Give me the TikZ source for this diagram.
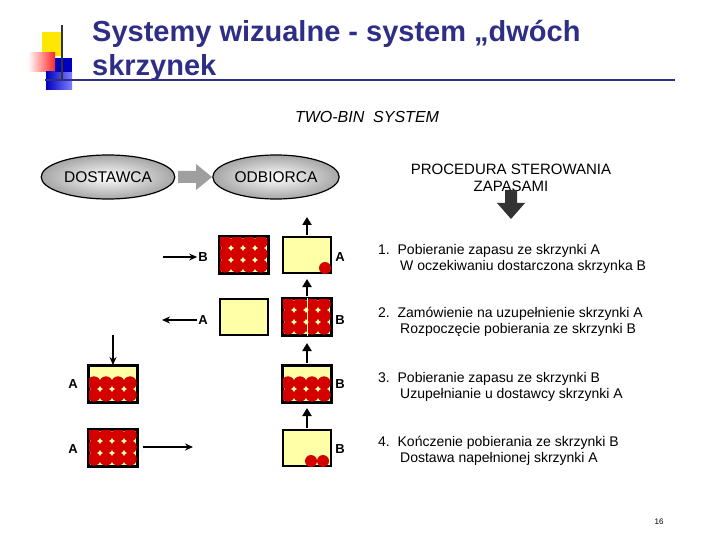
\documentclass[tikz,border=0pt]{standalone}
\usepackage{fontspec}
\setmainfont{Liberation Sans}
\usetikzlibrary{arrows.meta,shapes.geometric,calc}
\definecolor{ttl}{HTML}{2E2E86}
\definecolor{cream}{HTML}{FFFFA8}
\definecolor{dotred}{HTML}{D40000}
\tikzset{
 bin/.style={draw=black,line width=2pt,fill=cream,minimum width=48pt,minimum height=36pt,inner sep=0pt},
 lbl/.style={font=\bfseries\fontsize{13}{13}\selectfont,inner sep=1pt},
 arr/.style={-{Stealth[length=8pt,width=7pt]},line width=1.2pt},
 uparr/.style={-{Triangle[length=8pt,width=9pt]},line width=2pt},
 oval/.style={ellipse,draw=black,line width=1.2pt,inner color=white,outer color=gray!70,minimum width=118pt,minimum height=44pt,font=\fontsize{15.5}{15.5}\selectfont},
 txt/.style={font=\fontsize{14}{16}\selectfont,align=left,anchor=north west,inner sep=0pt},
}
\newcommand{\dotrows}[3]{%
 \begin{scope}
 \clip (#1.north west) rectangle (#1.south east);
 \foreach \r in {#2,...,#3}{\foreach \c in {0,...,3}{
  \fill[dotred] ($(#1.north west)+(6+12*\c,6+12*\r)$) circle (6.7pt);}}
 \end{scope}
 \draw[line width=2pt] (#1.north west) rectangle (#1.south east);}
\begin{document}
\begin{tikzpicture}[x=1pt,y=-1pt]
\useasboundingbox (0,0) rectangle (720,540);
% logo
\fill[yellow!90!orange] (42,32) rectangle (62,56);
\shade[left color=white,right color=red!85] (28,53) rectangle (55,72);
\shade[left color=blue!75!black,right color=blue!50] (46,72) rectangle (72,90);
\fill[blue!75!black] (55,58) rectangle (72,72);
\draw[line width=1.2pt,black!80] (62,25) -- (62,80);
\node[anchor=west,text=ttl,font=\bfseries\fontsize{29}{29}\selectfont,inner sep=0pt] (t1) at (92,34) {Systemy wizualne - system „dwóch};
\node[anchor=west,text=ttl,font=\bfseries\fontsize{29}{29}\selectfont,inner sep=0pt] (t2) at (92,68) {skrzynek};
\coordinate (ul1) at (45,80); \coordinate (ul2) at (675,80);
\draw[ttl,line width=1.5pt] (ul1) -- (ul2);
\node[font=\itshape\fontsize{16}{16}\selectfont] (two) at (367,117) {TWO-BIN \ SYSTEM};
% ovals
\node[oval] (dost) at (108,177) {DOSTAWCA};
\node[oval] (odb) at (276,177) {ODBIORCA};
\fill[gray!75] (178,171) -- (196,171) -- (196,164) -- (212,177) -- (196,190) -- (196,183) -- (178,183) -- cycle;
\node[font=\fontsize{15}{17}\selectfont,align=center] (proc) at (511,178) {PROCEDURA STEROWANIA\\ZAPASAMI};
\fill[black!80] (505,190) -- (517,190) -- (517,203) -- (525,203) -- (511,219) -- (497,203) -- (505,203) -- cycle;
% row 1
\node[bin] (b1l) at (244,255) {}; \dotrows{b1l}{0}{2}
\node[bin] (b1r) at (307,255) {};
\fill[dotred] ($(b1r.south east)+(-7,-6)$) circle (6pt);
\node[lbl] (l1b) at (203,257) {B}; \coordinate (s1) at (163,257);
\draw[arr] (s1) -- (l1b);
\node[lbl] (l1a) at (340,257) {A};
\coordinate (u1) at (307,217); \draw[uparr] (307,235) -- (u1);
% row 2
\node[bin] (b2l) at (244,317) {};
\node[bin] (b2r) at (307,317) {}; \dotrows{b2r}{0}{2}
\draw[cream,line width=0.6pt] (b2r.north) -- (b2r.south);
\node[lbl] (l2a) at (203,320) {A}; \coordinate (s2) at (162,320);
\draw[arr] (l2a) -- (s2);
\node[lbl] (l2b) at (340,320) {B};
\coordinate (u2) at (307,279); \draw[uparr] (307,296) -- (u2);
% row 3
\node[bin] (b3l) at (113,384) {}; \dotrows{b3l}{1}{2}
\node[bin] (b3r) at (307,384) {}; \dotrows{b3r}{1}{2}
\node[lbl] (l3a) at (73,384) {A};
\node[lbl] (l3b) at (340,384) {B};
\coordinate (d3) at (113,335); \draw[arr] (d3) -- (b3l.north);
\coordinate (u3) at (307,343); \draw[uparr] (307,363) -- (u3);
% row 4
\node[bin] (b4l) at (113,448) {}; \dotrows{b4l}{0}{2}
\node[bin] (b4r) at (307,448) {};
\fill[dotred] ($(b4r.south east)+(-21,-6)$) circle (6pt);
\fill[dotred] ($(b4r.south east)+(-9,-6)$) circle (6pt);
\node[lbl] (l4a) at (73,449) {A};
\node[lbl] (l4b) at (340,449) {B};
\coordinate (r4) at (193,447); \draw[arr] (143,447) -- (r4);
\coordinate (u4) at (307,408); \draw[uparr] (307,428) -- (u4);
% texts
\node[txt] (p1) at (378,244) {1.\ \ Pobieranie zapasu ze skrzynki A\\\hspace*{22pt}W oczekiwaniu dostarczona skrzynka B};
\node[txt] (p2) at (378,307) {2.\ \ Zamówienie na uzupełnienie skrzynki A\\\hspace*{22pt}Rozpoczęcie pobierania ze skrzynki B};
\node[txt] (p3) at (378,372) {3.\ \ Pobieranie zapasu ze skrzynki B\\\hspace*{22pt}Uzupełnianie u dostawcy skrzynki A};
\node[txt] (p4) at (378,436) {4.\ \ Kończenie pobierania ze skrzynki B\\\hspace*{22pt}Dostawa napełnionej skrzynki A};
\node[font=\fontsize{8}{8}\selectfont] (pg) at (659,522) {16};
\end{tikzpicture}
\end{document}
